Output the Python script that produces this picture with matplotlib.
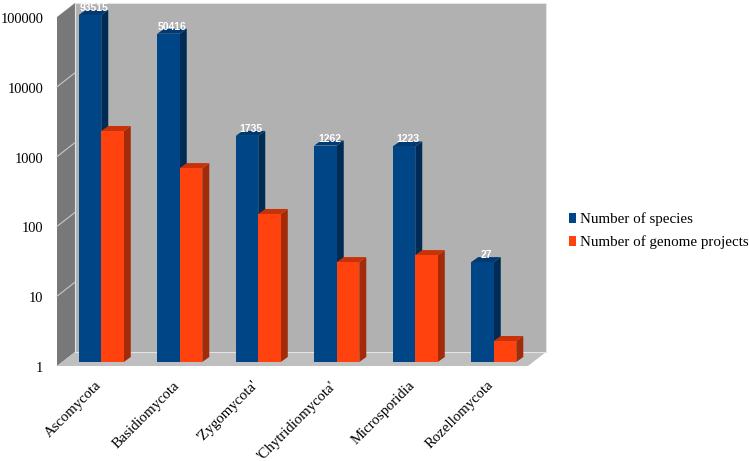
import matplotlib
matplotlib.use('Agg')
import matplotlib.pyplot as plt
from matplotlib.patches import Polygon, Patch
from matplotlib.transforms import Affine2D

categories = ['Ascomycota', 'Basidiomycota', "'Zygomycota'",
              "'Chytridiomycota'", 'Microsporidia', 'Rozellomycota']
species = [93515, 50416, 1735, 1262, 1223, 27]
genomes = [2040, 600, 132, 27, 34, 2]
yticks = [1, 10, 100, 1000, 10000, 100000]

W, H = 749, 461
plt.rcParams['font.family'] = ['Liberation Serif', 'DejaVu Serif']

fig = plt.figure(figsize=(W/100, H/100), dpi=100)
# front plane of the fake 3d box
ax = fig.add_axes([57/W, 1-366/H, 471/W, 349/H])
ax.set_yscale('log')
ax.set_ylim(1, 100000)
ax.set_xlim(0, 6)
ax.patch.set_visible(False)
for s in ax.spines.values():
    s.set_visible(False)

def shift(dx, dy, base=None):
    # pixel offset on top of data coords
    return (base or ax.transData) + Affine2D().translate(dx, dy)

# box walls, in axes coords with pixel depth offset
DX, DY = 18, 14
ta = ax.transAxes
back = Polygon([(0, 0), (1, 0), (1, 1), (0, 1)], transform=shift(DX, DY, ta),
               fc='#b1b1b1', ec='#e4e4e4', lw=0.8, clip_on=False, zorder=1)
ax.add_patch(back)
fig.add_artist(Polygon([(57/W, 1-366/H), (75/W, 1-352/H), (75/W, 1-3/H), (57/W, 1-17/H)],
                       transform=fig.transFigure, fc='#787878', ec='none', zorder=1.2))
fig.add_artist(Polygon([(57/W, 1-366/H), (528/W, 1-366/H), (546/W, 1-352/H), (75/W, 1-352/H)],
                       transform=fig.transFigure, fc='#bfbfbf', ec='none', zorder=1.2))
ax.set_zorder(2)

# grid only shows on the side wall
for v in yticks[1:-1]:
    ax.plot([0, DX/78.5], [v, v*10**(DY/69.8)], color='#c8c8c8', lw=0.8, zorder=2, clip_on=False)

blue, blue_top, blue_side = '#004586', '#003a70', '#002b54'
red, red_top, red_side = '#ff420e', '#c83208', '#a32b09'
bw = 0.287
OX, OY = 5, 4   # bars sit a bit back from the front edge
SX, SY = 7, 5   # bar depth

def bar3d(x0, x1, v, front, top, side, z):
    tr = shift(OX, OY)
    back_tr = shift(OX+SX, OY+SY)
    # side and top faces drawn with the back offset, then joined by the front face
    p0 = tr.transform([(x0, v), (x1, v), (x1, 1)])
    p1 = back_tr.transform([(x0, v), (x1, v), (x1, 1)])
    inv = fig.transFigure.inverted()
    fig_top = inv.transform([p0[0], p0[1], p1[1], p1[0]])
    fig_side = inv.transform([p0[1], p0[2], p1[2], p1[1]])
    ax.add_patch(Polygon(fig_side, transform=fig.transFigure, fc=side, ec='none', zorder=z, clip_on=False))
    ax.add_patch(Polygon(fig_top, transform=fig.transFigure, fc=top, ec='none', zorder=z, clip_on=False))
    ax.bar(x0, v-1, width=x1-x0, bottom=1, align='edge', color=front, transform=tr, zorder=z+0.1, clip_on=False)

for i, (a, b) in enumerate(zip(species, genomes)):
    c = i + 0.5
    bar3d(c-bw, c, a, blue, blue_top, blue_side, 3+i)
    bar3d(c, c+bw, b, red, red_top, red_side, 3.5+i)
    ax.text(c-bw/2, a, str(a), transform=shift(OX+4, OY+7), ha='center', va='center', color='white',
            fontsize=7.5, fontweight='bold', family='Liberation Sans', zorder=20, clip_on=False)

ax.set_ylim(1, 100000)
ax.set_xlim(0, 6)
ax.set_yticks(yticks)
ax.set_yticklabels([str(v) for v in yticks], fontsize=10.4)
ax.minorticks_off()
ax.tick_params(axis='y', length=0, pad=10)
for lab in ax.get_yticklabels():
    lab.set_transform(lab.get_transform() + Affine2D().translate(0, -1))
ax.set_xticks([i+0.5 for i in range(6)])
ax.set_xticklabels(categories, rotation=45, ha='right', rotation_mode='anchor', fontsize=10.6)
ax.tick_params(axis='x', length=0, pad=10)
for lab in ax.get_xticklabels():
    lab.set_transform(lab.get_transform() + Affine2D().translate(-2, 1))

handles = [Patch(fc=blue, label='Number of species'), Patch(fc=red, label='Number of genome projects')]
fig.legend(handles=handles, loc='center left', bbox_to_anchor=(559.5/W, 1-231/H), frameon=False,
           fontsize=10.8, handlelength=0.5, handleheight=0.7, handletextpad=0.3, labelspacing=0.62,
           borderpad=0, borderaxespad=0.6)

fig.savefig('out.png', dpi=100)
